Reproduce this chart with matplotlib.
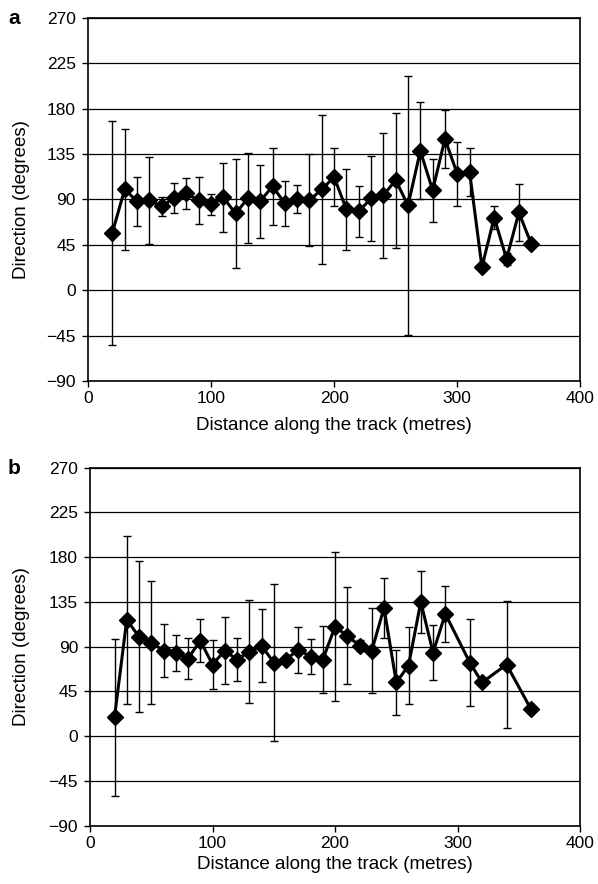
import matplotlib as mpl
from matplotlib import pyplot as plt
import numpy as np

mpl.rcParams['font.family'] = ['Liberation Sans', 'DejaVu Sans']
mpl.rcParams['font.size'] = 12.5

# Panel a: 20..360 m every 10 m
dist_a = list(range(20, 370, 10))
dir_a = [57, 100, 88, 89, 83, 91, 96, 89, 85, 92,
         76, 91, 88, 103, 86, 90, 89, 100, 112, 80,
         78, 91, 94, 109, 84, 138, 99, 150, 115, 117,
         23, 72, 31, 77, 46]
err_a = [111, 60, 24, 43, 9.5, 15, 15.5, 23, 10.5, 34,
         54, 44.5, 36, 38, 22.6, 14, 45.6, 74, 29, 40,
         25, 42, 62, 67, 128.5, 48, 31, 29, 32, 24,
         0, 11, 6, 28, 0]

# Panel b: 20..290 every 10 m, then 310, 320, 340, 360
dist_b = list(range(20, 300, 10)) + [310, 320, 340, 360]
dir_b = [19, 117, 100, 94, 86, 84, 78, 96, 72, 86,
         77, 85, 91, 74, 77, 87, 80, 77, 110, 101,
         91, 86, 129, 54, 71, 135, 84, 123,
         74, 54, 72, 27]
err_b = [79, 84.5, 76, 62, 26.7, 18, 21, 21.6, 24.4, 34,
         22, 51.7, 37, 79, 0, 23, 18, 33.7, 75, 49,
         5.7, 43, 30, 32.5, 39, 31, 27.6, 28,
         43.5, 0, 64, 0]

y_ticks = list(range(-90, 271, 45))


def draw_panel(ax, x, y, err, xlab_y):
    x = np.array(x, dtype=float)
    y = np.array(y, dtype=float)
    err = np.array(err, dtype=float)
    has = err > 0
    # только точки, у которых есть погрешность
    ax.errorbar(x[has], y[has], yerr=err[has], fmt='none', ecolor='black',
                elinewidth=1, capsize=3, capthick=1, zorder=3)
    ax.plot(x, y, '-D', color='black', lw=2.2, ms=8, zorder=4)

    ax.set_xlim(0, 400)
    ax.set_ylim(-90, 270)
    ax.set_xticks([0, 100, 200, 300, 400])
    ax.set_yticks(y_ticks)
    ax.set_yticklabels([str(v).replace('-', '\u2212') for v in y_ticks])
    ax.grid(axis='y', color='black', lw=0.9)
    ax.set_axisbelow(True)
    for s in ax.spines.values():
        s.set_linewidth(1.2)
    ax.tick_params(direction='out', length=4.3, width=1)
    ax.tick_params(axis='y', pad=4.3)
    ax.tick_params(axis='x', pad=3)
    ax.set_xlabel('Distance along the track (metres)', fontsize=13.5, va='top')
    ax.set_ylabel('Direction (degrees)', fontsize=13.5)
    ax.xaxis.set_label_coords(0.5, xlab_y)


fig = plt.figure(figsize=(5.98, 8.84), dpi=100)
ax_a = fig.add_axes([0.1467, 0.569, 0.824, 0.411])
ax_b = fig.add_axes([0.1505, 0.066, 0.8195, 0.405])

draw_panel(ax_a, dist_a, dir_a, err_a, -0.1)
draw_panel(ax_b, dist_b, dir_b, err_b, -0.086)
ax_a.yaxis.set_label_coords(-0.118, 0.5)
ax_b.yaxis.set_label_coords(-0.122, 0.5)

fig.text(8 / 598, 1 - 24 / 884, 'a', fontweight='heavy', fontsize=15, va='baseline')
fig.text(8 / 598, 1 - 474 / 884, 'b', fontweight='heavy', fontsize=15, va='baseline')

fig.savefig('out.png', dpi=100)
